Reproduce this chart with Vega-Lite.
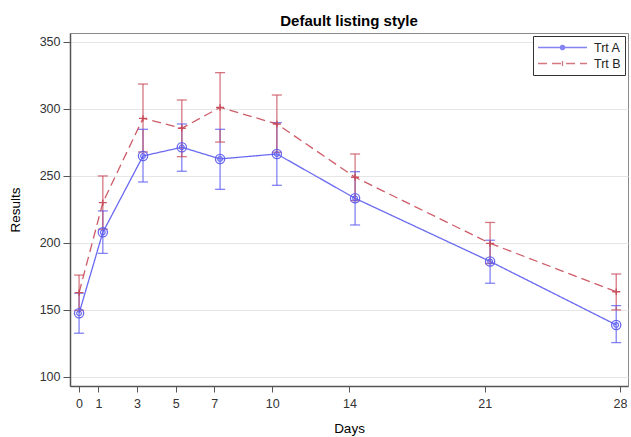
{
  "$schema": "https://vega.github.io/schema/vega-lite/v6.json",
  "width": 558,
  "height": 353,
  "autosize": {"type": "none"},
  "padding": {"left": 70, "top": 33, "right": 3, "bottom": 51},
  "background": "white",
  "title": {"text": "Default listing style", "font": "Liberation Sans", "fontSize": 15, "fontWeight": "bold", "color": "#000", "anchor": "middle", "offset": 4},
  "config": {
    "view": {"stroke": "#8a8a8a", "strokeWidth": 1},
    "axis": {"labelFont": "Liberation Sans", "titleFont": "Liberation Sans", "labelColor": "#333", "titleColor": "#000", "titleFontWeight": "normal", "domainColor": "#555", "domainWidth": 1.5, "tickColor": "#555", "tickWidth": 1},
    "legend": {"labelFont": "Liberation Sans"}
  },
  "data": {"values": [
    {"trt": "Trt A", "day": 0.0, "mean": 147.3, "lo": 132.4, "hi": 162.3},
    {"trt": "Trt A", "day": 1.23, "mean": 207.7, "lo": 192.0, "hi": 223.7},
    {"trt": "Trt A", "day": 3.31, "mean": 264.7, "lo": 245.3, "hi": 284.6},
    {"trt": "Trt A", "day": 5.32, "mean": 271.2, "lo": 253.3, "hi": 288.6},
    {"trt": "Trt A", "day": 7.30, "mean": 262.5, "lo": 239.8, "hi": 284.6},
    {"trt": "Trt A", "day": 10.24, "mean": 266.2, "lo": 242.8, "hi": 289.6},
    {"trt": "Trt A", "day": 14.29, "mean": 233.1, "lo": 213.2, "hi": 253.0},
    {"trt": "Trt A", "day": 21.28, "mean": 186.0, "lo": 169.7, "hi": 201.8},
    {"trt": "Trt A", "day": 27.81, "mean": 138.6, "lo": 125.4, "hi": 153.0},
    {"trt": "Trt B", "day": 0.0, "mean": 162.7, "lo": 149.5, "hi": 175.8},
    {"trt": "Trt B", "day": 1.23, "mean": 229.9, "lo": 210.0, "hi": 249.8},
    {"trt": "Trt B", "day": 3.31, "mean": 292.8, "lo": 267.7, "hi": 318.4},
    {"trt": "Trt B", "day": 5.32, "mean": 285.4, "lo": 264.2, "hi": 306.5},
    {"trt": "Trt B", "day": 7.30, "mean": 301.0, "lo": 275.1, "hi": 326.9},
    {"trt": "Trt B", "day": 10.24, "mean": 288.6, "lo": 267.5, "hi": 310.2},
    {"trt": "Trt B", "day": 14.29, "mean": 248.8, "lo": 231.3, "hi": 266.2},
    {"trt": "Trt B", "day": 21.28, "mean": 199.5, "lo": 184.4, "hi": 215.1},
    {"trt": "Trt B", "day": 27.81, "mean": 163.4, "lo": 149.8, "hi": 176.6}
  ]},
  "encoding": {
    "x": {"field": "day", "type": "quantitative",
      "scale": {"domain": [-0.47, 28.42], "nice": false, "zero": false},
      "axis": {"title": "Days", "titleFontSize": 13.5, "titlePadding": 12, "values": [0, 1, 3, 5, 7, 10, 14, 21, 28], "grid": false, "labelFontSize": 12.5, "tickSize": 6, "labelPadding": 5, "labelFlush": false, "labelOverlap": false}},
    "color": {"field": "trt", "type": "nominal", "scale": {"domain": ["Trt A", "Trt B"], "range": ["#5a5af0", "#c84a58"]}, "legend": {
         "title": null, "orient": "top-right", "offset": 3, "padding": 4, "strokeColor": "#333", "fillColor": "white",
         "labelFontSize": 12.5, "labelColor": "#222", "labelOffset": 6, "symbolSize": 2400, "clipHeight": 15, "rowPadding": 1,
         "symbolStrokeWidth": 1.3, "symbolFillColor": "white",
         "symbolType": {"expr": "datum.value === 'Trt A' ? 'M-1,0H-0.09M0.09,0H1M0.09,0A0.09,0.09 0 1 1 -0.09,0A0.09,0.09 0 1 1 0.09,0' : 'M-1,0H1M0,-0.1V0.1'"}
       }}
  },
  "layer": [
    {"mark": {"type": "rule", "strokeWidth": 1.3, "opacity": 0.75},
     "encoding": {
       "y": {"field": "lo", "type": "quantitative",
         "scale": {"domain": [93, 356.5], "nice": false, "zero": false},
         "axis": {"title": "Results", "titleFontSize": 13.5, "titlePadding": 17, "values": [100, 125, 150, 175, 200, 225, 250, 275, 300, 325, 350], "labelExpr": "datum.value % 50 === 0 ? datum.label : ''", "labelFontSize": 12.5, "labelPadding": 3, "tickSize": {"condition": {"test": "datum.value % 50 !== 0", "value": 4}, "value": 7}, "grid": true, "gridColor": "#e6e6e6", "gridOpacity": {"condition": {"test": "datum.value % 50 !== 0", "value": 0}, "value": 1}}},
       "y2": {"field": "hi"}
     }},
    {"mark": {"type": "tick", "orient": "horizontal", "size": 10, "thickness": 1.3, "opacity": 0.75},
     "encoding": {"y": {"field": "lo", "type": "quantitative"}}},
    {"mark": {"type": "tick", "orient": "horizontal", "size": 10, "thickness": 1.3, "opacity": 0.75},
     "encoding": {"y": {"field": "hi", "type": "quantitative"}}},
    {"mark": {"type": "line", "strokeWidth": 1.3, "opacity": 0.9},
     "encoding": {
       "y": {"field": "mean", "type": "quantitative"},
       "strokeDash": {"field": "trt", "type": "nominal", "scale": {"domain": ["Trt A", "Trt B"], "range": [[1, 0], [9, 5]]}}
     }},
    {"transform": [{"filter": "datum.trt === 'Trt A'"}],
     "mark": {"type": "point", "shape": "circle", "filled": false, "size": 85, "strokeWidth": 1.3, "opacity": 0.9},
     "encoding": {"y": {"field": "mean", "type": "quantitative"}}},
    {"transform": [{"filter": "datum.trt === 'Trt A'"}],
     "mark": {"type": "point", "shape": "circle", "filled": false, "size": 22, "strokeWidth": 1.2, "opacity": 0.9},
     "encoding": {"y": {"field": "mean", "type": "quantitative"}}},
    {"transform": [{"filter": "datum.trt === 'Trt B'"}],
     "mark": {"type": "point", "shape": "M-1,0H1M0,-0.8V0.8", "filled": false, "size": 64, "strokeWidth": 1.4, "opacity": 0.95},
     "encoding": {"y": {"field": "mean", "type": "quantitative"}}}
  ]
}
